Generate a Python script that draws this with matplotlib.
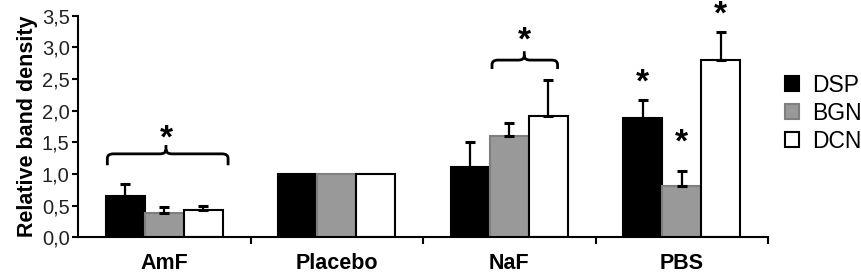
import matplotlib
matplotlib.use("Agg")
import matplotlib.pyplot as plt
import numpy as np
from matplotlib.path import Path
from matplotlib.patches import PathPatch

plt.rcParams['font.family'] = ['Liberation Sans', 'DejaVu Sans']

categories = ["AmF", "Placebo", "NaF", "PBS"]
series = ["DSP", "BGN", "DCN"]
dsp = [0.65, 1.0, 1.12, 1.88]
bgn = [0.38, 1.0, 1.60, 0.81]
dcn = [0.44, 1.0, 1.91, 2.80]
dsp_err = [0.19, 0.0, 0.39, 0.29]
bgn_err = [0.10, 0.0, 0.20, 0.24]
dcn_err = [0.06, 0.0, 0.57, 0.44]
yticks = [0.0, 0.5, 1.0, 1.5, 2.0, 2.5, 3.0, 3.5]
ytick_labels = ["0,0", "0,5", "1,0", "1,5", "2,0", "2,5", "3,0", "3,5"]

colors = ["#000000", "#999999", "#ffffff"]
edges = ["#000000", "#7f7f7f", "#000000"]

fig = plt.figure(figsize=(8.61, 2.77), dpi=100)
ax = fig.add_axes([0.0906, 0.1426, 0.8014, 0.8006])

x = np.arange(len(categories))
w = 0.226
vals = [dsp, bgn, dcn]
errs = [dsp_err, bgn_err, dcn_err]
for i in range(3):
    pos = x + (i - 1) * w
    ax.bar(pos, vals[i], width=w, color=colors[i], edgecolor=edges[i],
           linewidth=1.5, label=series[i], zorder=2)
    mask = np.array(errs[i]) > 0
    ax.errorbar(pos[mask], np.array(vals[i])[mask],
                yerr=[np.zeros(mask.sum()), np.array(errs[i])[mask]],
                fmt='none', ecolor='black', elinewidth=1.6, capsize=3.8,
                capthick=2.2, zorder=3)

def bracket(ax, x0, x1, xm, y, drop, up):
    r = 0.035
    ry = 0.07
    verts = [(x0, y - drop), (x0, y - ry), (x0, y), (x0 + r, y),
             (xm - r, y), (xm, y), (xm, y + ry), (xm, y + up),
             (xm, y + ry), (xm, y), (xm + r, y),
             (x1 - r, y), (x1, y), (x1, y - ry), (x1, y - drop)]
    codes = [Path.MOVETO, Path.LINETO, Path.CURVE3, Path.CURVE3,
             Path.LINETO, Path.CURVE3, Path.CURVE3, Path.LINETO,
             Path.MOVETO, Path.CURVE3, Path.CURVE3,
             Path.LINETO, Path.CURVE3, Path.CURVE3, Path.LINETO]
    ax.add_patch(PathPatch(Path(verts, codes), fill=False, lw=2.0,
                           edgecolor='black', clip_on=False, zorder=4))

bracket(ax, 0 - 0.33, 0 + 0.37, 0 + 0.01, 1.32, 0.18, 0.14)
bracket(ax, 2 - 0.10, 2 + 0.28, 2 + 0.087, 2.80, 0.14, 0.14)

def star(xp, yc):
    ax.text(xp, yc, "*", ha='center', va='center', fontsize=24,
            fontweight='bold', clip_on=False, zorder=5,
            transform=ax.transData)

star(0 + 0.01, 1.55)
star(2 + 0.087, 3.10)
star(3 - w, 2.44)
star(3, 1.49)
star(3 + w, 3.51)

ax.set_xlim(-0.5, 3.5)
ax.set_ylim(0, 3.5)
ax.set_yticks(yticks)
ax.set_yticklabels(ytick_labels, fontsize=14.5, color='#222222')
ax.set_xticks([0.5, 1.5, 2.5, 3.5])
ax.set_xticklabels([])
ax.set_xticks(x, minor=True)
ax.set_xticklabels(categories, minor=True, fontsize=15.5, fontweight='bold')
ax.tick_params(axis='x', which='minor', length=0, pad=11)
ax.tick_params(axis='x', which='major', length=5, width=1.5, direction='out')
ax.tick_params(axis='y', length=4, width=1.5, direction='out', pad=2)
for s in ['top', 'right']:
    ax.spines[s].set_visible(False)
for s in ['left', 'bottom']:
    ax.spines[s].set_linewidth(1.5)
ax.set_ylabel("Relative band density", fontsize=15.5, fontweight='bold',
              labelpad=3)

leg = ax.legend(loc='center left', bbox_to_anchor=(1.012, 0.56), frameon=False,
                fontsize=16.5, handlelength=0.6, handleheight=0.6,
                handletextpad=0.55, labelspacing=0.22, borderaxespad=0)

fig.savefig("out.png", dpi=100)
